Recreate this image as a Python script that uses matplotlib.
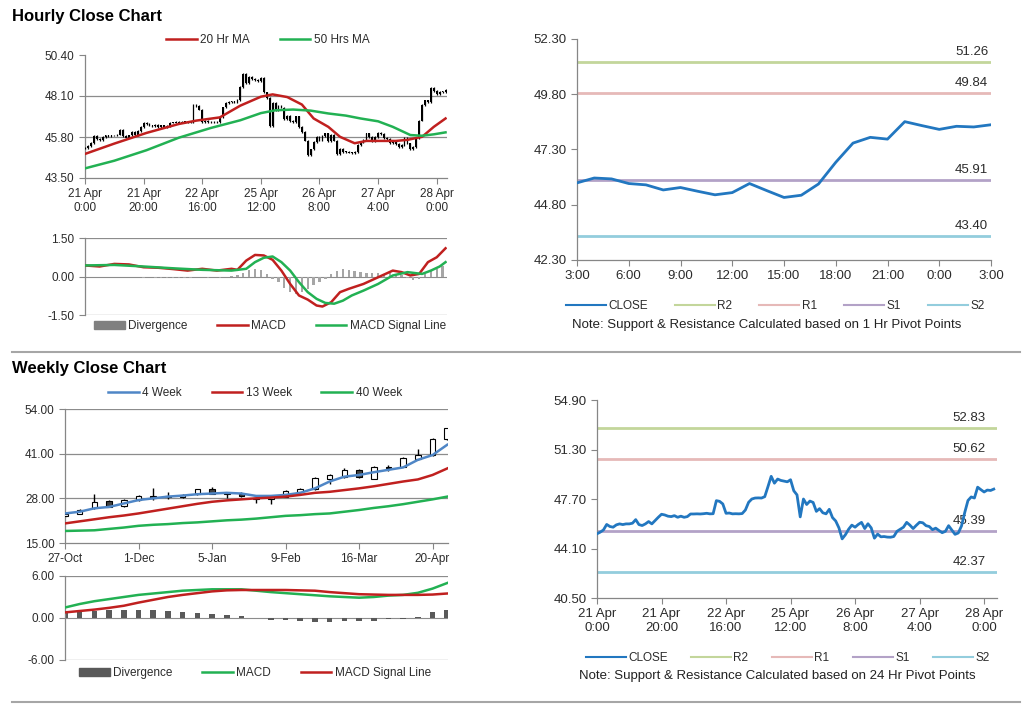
import matplotlib
matplotlib.use("Agg")
import matplotlib.pyplot as plt
import numpy as np
from matplotlib.lines import Line2D
from matplotlib.patches import Patch

plt.rcParams["font.family"] = ["Liberation Sans", "DejaVu Sans"]

# hourly closes, 21 Apr 0:00 .. 28 Apr 3:00 (124 trading hours)
hourly_close = [
    45.17, 45.29, 45.45, 45.85, 45.70, 45.65, 45.82, 45.89, 45.84, 45.89,
    45.89, 45.94, 46.20, 45.84, 45.77, 45.89, 46.06, 45.89, 46.13, 46.37,
    46.59, 46.54, 46.45, 46.42, 46.49, 46.37, 46.45, 46.37, 46.42, 46.61,
    46.61, 46.62, 46.61, 46.63, 46.66, 46.62, 46.63, 47.58, 47.53, 47.34,
    46.66, 46.68, 46.62, 46.63, 46.62, 46.64, 46.90, 47.46, 47.70, 47.77,
    47.78, 47.77, 47.87, 48.60, 49.35, 48.85, 49.15, 49.05, 49.00, 48.95,
    49.10, 48.30, 48.00, 46.40, 47.70, 47.30, 47.55, 47.45, 46.80, 47.00,
    46.70, 46.62, 46.95, 46.35, 46.10, 45.60, 44.80, 45.10, 45.50, 45.80,
    45.65, 45.85, 46.00, 45.55, 45.90, 45.60, 44.85, 45.15, 44.95, 44.97,
    44.93, 44.92, 44.97, 45.35, 45.50, 45.65, 46.00, 45.80, 45.55, 45.79,
    46.01, 45.97, 45.76, 45.70, 45.47, 45.58, 45.41, 45.25, 45.35, 45.76,
    45.44, 45.13, 45.23, 45.74, 46.72, 47.59, 47.85, 47.77, 48.56, 48.38,
    48.21, 48.35, 48.32, 48.42,
]
hour_tick_pos = [0, 20, 40, 60, 80, 100, 120]
hour_tick_labels = ["21 Apr\n0:00", "21 Apr\n20:00", "22 Apr\n16:00", "25 Apr\n12:00",
                    "26 Apr\n8:00", "27 Apr\n4:00", "28 Apr\n0:00"]

ma20_x = [0, 10, 21, 32, 38, 46, 53, 60, 64, 69, 74, 78, 83, 87, 92, 96, 101, 106, 110, 115, 119, 123]
ma20 = [44.85, 45.43, 46.03, 46.53, 46.72, 46.90, 47.56, 48.06, 48.19, 48.04, 47.62,
        46.84, 46.37, 45.81, 45.45, 45.58, 45.58, 45.58, 45.64, 45.81, 46.37, 46.84]
ma50_x = [0, 10, 21, 32, 43, 53, 60, 65, 71, 77, 83, 89, 94, 100, 105, 111, 115, 119, 123]
ma50 = [44.04, 44.47, 45.06, 45.76, 46.31, 46.74, 47.14, 47.30, 47.34, 47.28, 47.12,
        47.00, 46.84, 46.68, 46.37, 45.91, 45.87, 45.95, 46.06]

macd_h_x = [0, 5, 10, 15, 20, 25, 30, 35, 40, 45, 50, 52, 55, 58, 61, 64, 67, 70, 73,
            76, 79, 81, 84, 87, 90, 95, 100, 105, 108, 111, 114, 117, 120, 123]
macd_h = [0.43, 0.39, 0.49, 0.47, 0.36, 0.34, 0.29, 0.23, 0.30, 0.23, 0.30, 0.26, 0.62,
          0.84, 0.82, 0.65, 0.23, -0.29, -0.74, -0.90, -1.13, -1.17, -1.00, -0.61, -0.48,
          -0.29, -0.03, 0.23, 0.17, 0.04, 0.10, 0.56, 0.75, 1.10]
signal_h_x = [0, 10, 20, 30, 40, 50, 55, 58, 61, 64, 67, 70, 73, 76, 79, 82, 85, 88,
              91, 95, 100, 105, 110, 115, 118, 121, 123]
signal_h = [0.43, 0.45, 0.39, 0.32, 0.26, 0.23, 0.30, 0.56, 0.73, 0.78, 0.56, 0.23,
            -0.22, -0.61, -0.87, -1.03, -1.06, -0.94, -0.74, -0.55, -0.29, 0.04, 0.17,
            0.10, 0.23, 0.39, 0.56]
div_h_x = list(range(0, 124, 2))
div_h = [-0.03, -0.02, -0.03, -0.02, -0.03, -0.01, -0.03, -0.03, -0.02, -0.03,
         -0.04, -0.03, -0.04, -0.04, -0.04, -0.04, -0.05, -0.04, -0.04, -0.03,
         -0.03, -0.04, -0.03, -0.04, -0.02, 0.02, 0.05, 0.15, 0.25, 0.30,
         0.25, 0.10, -0.10, -0.22, -0.45, -0.62, -0.70, -0.62, -0.50, -0.35,
         -0.20, -0.08, 0.08, 0.22, 0.28, 0.24, 0.20, 0.18, 0.15, 0.12,
         0.12, 0.10, 0.12, 0.08, 0.05, -0.05, -0.12, -0.10, 0.10, 0.25,
         0.30, 0.40]

# 1 hr pivot levels and 24 hr pivot levels
pivot_names = ["R2", "R1", "S1", "S2"]
pivot_colors = ["#c3d69b", "#e6b9b8", "#b3a2c7", "#93cddd"]
pivots_1h = [51.26, 49.84, 45.91, 43.40]
pivots_24h = [52.83, 50.62, 45.39, 42.37]
last_day_labels = ["3:00", "6:00", "9:00", "12:00", "15:00", "18:00", "21:00", "0:00", "3:00"]

# weekly candles, 27-Oct .. 27-Apr
wk_open = [22.8, 23.5, 25.1, 27.2, 25.8, 27.5, 28.6, 28.3, 28.5, 29.2, 30.8, 29.4, 29.4, 28.2,
           27.8, 28.5, 29.8, 30.6, 33.5, 34.3, 36.3, 33.7, 37.0, 37.2, 39.5, 40.6, 45.3]
wk_close = [23.3, 24.6, 27.0, 25.5, 27.5, 28.7, 28.2, 28.8, 28.9, 30.6, 29.4, 29.2, 28.8, 27.9,
            28.3, 30.1, 30.6, 33.8, 34.8, 36.3, 34.1, 37.2, 36.7, 39.7, 40.6, 45.3, 48.4]
wk_high = [23.6, 24.8, 29.4, 27.6, 27.7, 29.0, 30.9, 29.8, 29.3, 30.8, 31.3, 29.6, 29.8, 28.5,
           28.5, 30.3, 30.9, 34.1, 35.2, 36.7, 36.5, 37.4, 37.8, 40.0, 42.3, 45.6, 48.6]
wk_low = [22.6, 23.3, 25.0, 25.4, 25.6, 27.3, 27.5, 27.8, 28.0, 29.0, 29.2, 28.2, 28.5, 26.7,
          26.3, 28.3, 29.6, 30.4, 32.3, 34.0, 33.8, 33.5, 36.1, 37.0, 39.3, 40.4, 45.1]
ma4 = [23.6, 24.1, 25.1, 25.5, 26.5, 27.5, 28.0, 28.5, 28.8, 29.2, 29.4, 29.6, 29.4, 28.7,
       28.7, 29.0, 29.6, 30.9, 32.9, 34.3, 34.8, 35.6, 36.3, 37.0, 39.2, 40.6, 43.6]
ma13 = [20.7, 21.3, 21.9, 22.5, 23.0, 23.6, 24.3, 25.0, 25.7, 26.4, 27.0, 27.4, 27.7, 28.0,
        28.2, 28.5, 29.0, 29.6, 29.9, 30.4, 30.9, 31.5, 32.2, 32.9, 33.5, 34.8, 36.7]
ma40 = [18.5, 18.6, 18.7, 19.1, 19.5, 20.0, 20.3, 20.5, 20.8, 21.0, 21.3, 21.6, 21.8, 22.1,
        22.5, 22.9, 23.1, 23.4, 23.6, 24.1, 24.6, 25.2, 25.7, 26.3, 27.0, 27.7, 28.5]
wk_tick_pos = [0, 5, 10, 15, 20, 25]
wk_tick_labels = ["27-Oct", "1-Dec", "5-Jan", "9-Feb", "16-Mar", "20-Apr"]

macd_w = [1.5, 2.0, 2.4, 2.7, 3.0, 3.3, 3.5, 3.7, 3.9, 4.0, 4.1, 4.1, 4.1, 3.9, 3.7, 3.55,
          3.4, 3.25, 3.1, 3.0, 2.9, 3.0, 3.2, 3.3, 3.6, 4.2, 5.0]
signal_w = [0.8, 1.0, 1.2, 1.45, 1.75, 2.2, 2.6, 3.0, 3.3, 3.55, 3.8, 3.95, 4.0, 4.0, 4.0,
            4.0, 3.95, 3.9, 3.7, 3.55, 3.4, 3.35, 3.3, 3.3, 3.3, 3.35, 3.5]
div_w = [0.7, 0.8, 1.0, 1.2, 1.1, 1.1, 1.1, 1.0, 0.8, 0.7, 0.6, 0.45, 0.3, 0.0, -0.3, -0.3,
         -0.45, -0.6, -0.6, -0.45, -0.45, -0.45, -0.15, -0.2, 0.15, 0.8, 1.2]

RED = "#c0201f"
GREEN = "#22b153"
BLUE = "#2277c0"
GRID = "#8c8c8c"
TXT = "#2b2b2b"
W, H = 1024, 704

fig = plt.figure(figsize=(W / 100, H / 100), dpi=100, facecolor="white")


def add_ax(left, top, right, bottom):
    return fig.add_axes([left / W, 1 - bottom / H, (right - left) / W, (bottom - top) / H])


def excel_style(ax, size=8.5):
    for s in ("top", "right"):
        ax.spines[s].set_visible(False)
    for s in ("left", "bottom"):
        ax.spines[s].set_color("#868686")
        ax.spines[s].set_linewidth(0.9)
    ax.tick_params(colors="#868686", labelcolor=TXT, labelsize=size, length=4, width=0.8)
    ax.yaxis.set_major_formatter(plt.FormatStrFormatter("%.2f"))


def fig_legend(handles, labels, cx, cy, spacing=2.5, size=8.5):
    fig.legend(handles, labels, loc="center", bbox_to_anchor=(cx / W, 1 - cy / H),
               ncol=len(handles), frameon=False, fontsize=size, handlelength=2.6,
               handletextpad=0.3, columnspacing=spacing, labelcolor=TXT)


def pivot_panel(ax, x, y, levels, labels, label_pos, lab_off):
    excel_style(ax, 9.5)
    for lv, col in zip(levels, pivot_colors):
        ax.axhline(lv, color=col, lw=2, zorder=1)
        ax.annotate(f"{lv:.2f}", (1, lv), xycoords=("axes fraction", "data"),
                    xytext=(-lab_off, 3), textcoords="offset points",
                    ha="right", va="bottom", fontsize=9.5, color=TXT)
    ax.plot(x, y, color=BLUE, lw=2, zorder=3)
    ax.set_xticks(label_pos)
    ax.set_xticklabels(labels)


def pivot_legend(x0, y_bottom, width):
    fig.legend([Line2D([], [], color=BLUE, lw=1.5)] +
               [Line2D([], [], color=c, lw=1.5) for c in pivot_colors],
               ["CLOSE"] + pivot_names, loc="lower left", mode="expand", ncol=5,
               bbox_to_anchor=(x0 / W, 1 - y_bottom / H, width / W, 16 / H), frameon=False,
               fontsize=8.5, handlelength=3.4, handletextpad=0.2, labelcolor=TXT)


# ---------------- hourly candles + MAs
ax1 = add_ax(85, 55, 447, 178)
excel_style(ax1)
close_h = np.array(hourly_close)
open_h = np.r_[close_h[0], close_h[:-1]]
idx_h = np.arange(len(close_h))
lo = np.minimum(open_h, close_h)
hi = np.maximum(open_h, close_h)
for g in (45.8, 48.1):
    ax1.axhline(g, color=GRID, lw=0.9, zorder=0)
ax1.vlines(idx_h, lo - 0.05, hi + 0.05, color="black", lw=0.9, zorder=3)
ax1.bar(idx_h, np.maximum(hi - lo, 0.04), bottom=lo, width=0.6, color="black", lw=0, zorder=3)
ax1.plot(ma20_x, ma20, color=RED, lw=1.8, zorder=4)
ax1.plot(ma50_x, ma50, color=GREEN, lw=1.8, zorder=4)
ax1.set_ylim(43.5, 50.4)
ax1.set_yticks([43.5, 45.8, 48.1, 50.4])
ax1.set_xlim(0, 123.5)
ax1.set_xticks(hour_tick_pos)
ax1.set_xticklabels(hour_tick_labels)
fig_legend([Line2D([], [], color=RED, lw=1.8), Line2D([], [], color=GREEN, lw=1.8)],
           ["20 Hr MA", "50 Hrs MA"], 268, 40)

# ---------------- hourly MACD
ax2 = add_ax(85, 238, 447, 315)
excel_style(ax2)
for g in (1.5, -1.5):
    ax2.axhline(g, color=GRID, lw=0.9, zorder=0)
ax2.axhline(0, color=GRID, lw=0.8, zorder=1)
ax2.bar(div_h_x, div_h, width=0.8, color="#a6a6a6", zorder=2)
ax2.plot(macd_h_x, macd_h, color=RED, lw=1.8, zorder=3)
ax2.plot(signal_h_x, signal_h, color=GREEN, lw=1.8, zorder=4)
ax2.set_ylim(-1.5, 1.5)
ax2.set_yticks([-1.5, 0, 1.5])
ax2.set_xlim(0, 123.5)
ax2.set_xticks([])
ax2.spines["bottom"].set_visible(False)
fig_legend([Patch(color="#808080"), Line2D([], [], color=RED, lw=1.8),
            Line2D([], [], color=GREEN, lw=1.8)],
           ["Divergence", "MACD", "MACD Signal Line"], 270, 326)

# ---------------- 1 hr pivot chart (last 25 hours)
ax3 = add_ax(577, 39, 991, 260)
last_day = close_h[-25:]
pivot_panel(ax3, np.arange(len(last_day)), last_day, pivots_1h, last_day_labels,
            np.arange(0, 25, 3), 2)
ax3.set_xlim(0, 24)
ax3.set_ylim(42.3, 52.3)
ax3.set_yticks(np.arange(42.3, 52.31, 2.5))
pivot_legend(555, 323, 440)
fig.text(767 / W, 1 - 325 / H, "Note: Support & Resistance Calculated based on 1 Hr Pivot Points",
         ha="center", va="center", fontsize=9.5, color="#222222")

# ---------------- weekly candles + MAs
ax4 = add_ax(65, 409, 448, 543)
excel_style(ax4)
for g in (28, 41, 54):
    ax4.axhline(g, color=GRID, lw=0.9, zorder=0)
idx_w = np.arange(len(wk_close))
o_w, c_w = np.array(wk_open), np.array(wk_close)
ax4.vlines(idx_w, wk_low, wk_high, color="black", lw=1, zorder=2)
body_lo = np.minimum(o_w, c_w)
body_h = np.maximum(np.abs(c_w - o_w), 0.25)
face = ["white" if c > o else "#404040" for o, c in zip(o_w, c_w)]
ax4.bar(idx_w, body_h, bottom=body_lo, width=0.38, color=face, edgecolor="black",
        lw=0.8, zorder=3)
ax4.plot(idx_w, ma4, color="#4f86c6", lw=1.8, zorder=4)
ax4.plot(idx_w, ma13, color=RED, lw=1.8, zorder=4)
ax4.plot(idx_w, ma40, color=GREEN, lw=1.8, zorder=4)
ax4.set_ylim(15, 54)
ax4.set_yticks([15, 28, 41, 54])
ax4.set_xlim(0, 26.05)
ax4.set_xticks(wk_tick_pos)
ax4.set_xticklabels(wk_tick_labels)
fig_legend([Line2D([], [], color="#4f86c6", lw=1.8), Line2D([], [], color=RED, lw=1.8),
            Line2D([], [], color=GREEN, lw=1.8)],
           ["4 Week", "13 Week", "40 Week"], 255, 393)

# ---------------- weekly MACD
ax5 = add_ax(65, 576, 448, 660)
excel_style(ax5)
for g in (6, -6):
    ax5.axhline(g, color=GRID, lw=0.9, zorder=0)
ax5.axhline(0, color=GRID, lw=0.8, zorder=1)
ax5.bar(idx_w, div_w, width=0.38, color="#595959", zorder=2)
ax5.plot(idx_w, macd_w, color=GREEN, lw=1.8, zorder=3)
ax5.plot(idx_w, signal_w, color=RED, lw=1.8, zorder=3)
ax5.set_ylim(-6, 6)
ax5.set_yticks([-6, 0, 6])
ax5.set_xlim(0, 26.05)
ax5.set_xticks([])
ax5.spines["bottom"].set_visible(False)
fig_legend([Patch(color="#595959"), Line2D([], [], color=GREEN, lw=1.8),
            Line2D([], [], color=RED, lw=1.8)],
           ["Divergence", "MACD", "MACD Signal Line"], 255, 673)

# ---------------- 24 hr pivot chart
ax6 = add_ax(597, 400, 997, 598)
pivot_panel(ax6, idx_h, close_h, pivots_24h, hour_tick_labels, hour_tick_pos, 8)
ax6.set_xlim(0, 124)
ax6.set_ylim(40.5, 54.9)
ax6.set_yticks(np.arange(40.5, 54.91, 3.6))
pivot_legend(575, 675, 425)
fig.text(777 / W, 1 - 676 / H, "Note: Support & Resistance Calculated based on 24 Hr Pivot Points",
         ha="center", va="center", fontsize=9.5, color="#222222")

# ---------------- titles and separators
fig.text(12 / W, 1 - 16 / H, "Hourly Close Chart", fontsize=12, fontweight="bold", va="center")
fig.text(12 / W, 1 - 368 / H, "Weekly Close Chart", fontsize=12, fontweight="bold", va="center")
for yy in (352, 702):
    fig.add_artist(Line2D([12 / W, 1020 / W], [1 - yy / H] * 2, color="#a6a6a6", lw=1.5))

fig.savefig("out.png", dpi=100)
